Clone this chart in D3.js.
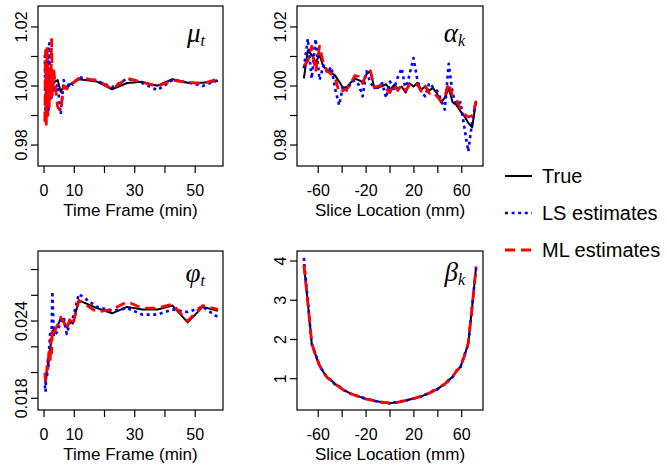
<!DOCTYPE html>
<html>
<head>
<meta charset="utf-8">
<script src="https://cdn.jsdelivr.net/npm/d3@7"></script>
<style>
  body { margin: 0; background: #fff; }
  svg { display: block; font-family: "Liberation Sans", Arial, sans-serif; }
</style>
</head>
<body>
<svg id="chart" width="667" height="468"></svg>
<script>
// Time frames (min) and slice locations (mm)
const timeFrames = [0.25, 0.5, 0.75, 1, 1.25, 1.5, 1.75, 2, 2.25, 2.5, 2.75, 3.25,
  4.5, 5.5, 6.5, 7.5, 8.5, 9.5, 11.5, 17.5, 22.5, 27.5, 32.5, 37.5, 42.5, 47.5, 52.5, 57.5];
const sliceLocs = d3.range(45).map(i => -72 + i * 144 / 44);

// mu_t
const muTrue = [0.9995, 1.0008, 0.9990, 1.0012, 0.9985, 1.0005, 0.9992, 1.0010, 0.9988, 1.0006, 0.9995, 1.0012,
  1.0020, 0.9980, 1.0000, 0.9992, 1.0005, 1.0009, 1.0023, 1.0015, 0.9989, 1.0010, 1.0014, 1.0001, 1.0023, 1.0011, 1.0011, 1.0017];
const muLS = [1.0105, 0.9880, 1.0080, 0.9900, 1.0100, 0.9920, 1.0145, 0.9950, 1.0060, 0.9960, 1.0030, 0.9985,
  1.0005, 0.9905, 1.0020, 0.9990, 1.0015, 1.0005, 1.0030, 1.0018, 0.9996, 1.0025, 1.0010, 0.9986, 1.0020, 1.0012, 1.0000, 1.0020];
const muML = [0.9880, 1.0120, 0.9870, 1.0135, 0.9900, 1.0060, 0.9930, 1.0050, 0.9960, 1.0158, 0.9970, 1.0050,
  0.9930, 0.9915, 1.0000, 0.9990, 1.0005, 1.0010, 1.0026, 1.0020, 0.9990, 1.0026, 1.0013, 0.9998, 1.0020, 1.0012, 1.0008, 1.0024];

// alpha_k
const alphaTrue = [1.0026, 1.0120, 1.0105, 1.0080, 1.0105, 1.0065, 1.0055, 1.0045, 1.0035, 1.0015,
  0.9993, 0.9997, 1.0012, 1.0025, 1.0020, 1.0013, 1.0040, 1.0052, 0.9992, 0.9995,
  1.0000, 1.0006, 0.9988, 1.0003, 0.9992, 0.9998, 0.9978, 1.0009, 0.9998, 1.0011,
  0.9988, 0.9998, 0.9985, 0.9993, 0.9975, 0.9945, 0.9960, 0.9993, 0.9945, 0.9935,
  0.9915, 0.9898, 0.9875, 0.9860, 0.9950];
const alphaLS = [1.0060, 1.0160, 1.0025, 1.0160, 1.0020, 1.0070, 1.0045, 1.0065, 0.9990, 0.9935,
  1.0000, 0.9985, 1.0010, 1.0020, 1.0005, 0.9965, 1.0050, 1.0010, 0.9995, 0.9995,
  1.0010, 0.9960, 1.0015, 0.9990, 1.0030, 1.0060, 0.9985, 1.0040, 1.0095, 1.0020,
  0.9980, 0.9965, 1.0010, 0.9995, 0.9985, 0.9955, 0.9920, 1.0075, 0.9975, 0.9935,
  0.9945, 0.9860, 0.9778, 0.9880, 0.9950];
const alphaML = [1.0068, 1.0085, 1.0135, 1.0048, 1.0135, 1.0075, 1.0050, 1.0040, 1.0028, 0.9978,
  0.9985, 0.9990, 1.0010, 1.0035, 1.0032, 1.0008, 1.0045, 1.0050, 0.9995, 1.0000,
  1.0003, 0.9990, 0.9978, 1.0005, 0.9985, 1.0003, 0.9985, 1.0005, 1.0000, 1.0005,
  0.9982, 1.0000, 0.9975, 0.9980, 0.9965, 0.9950, 0.9965, 1.0010, 0.9965, 0.9955,
  0.9920, 0.9905, 0.9895, 0.9900, 0.9948];

// phi_t
const phiTrue = [0.0196, 0.0192, 0.0199, 0.0202, 0.0205, 0.0210, 0.0215, 0.0218, 0.0222, 0.0226, 0.0232, 0.0233,
  0.0236, 0.0242, 0.0240, 0.0235, 0.0240, 0.0238, 0.0256, 0.0250, 0.0246, 0.0251, 0.0249, 0.0249, 0.0252, 0.0239, 0.0251, 0.0248];
const phiLS = [0.0190, 0.0185, 0.0200, 0.0196, 0.0210, 0.0205, 0.0220, 0.0230, 0.0225, 0.0233, 0.0263, 0.0228,
  0.0232, 0.0240, 0.0243, 0.0230, 0.0238, 0.0242, 0.0261, 0.0251, 0.0248, 0.0250, 0.0245, 0.0245, 0.0249, 0.0247, 0.0251, 0.0243];
const phiML = [0.0200, 0.0194, 0.0197, 0.0205, 0.0203, 0.0212, 0.0219, 0.0207, 0.0226, 0.0215, 0.0234, 0.0231,
  0.0237, 0.0243, 0.0239, 0.0234, 0.0241, 0.0237, 0.0256, 0.0247, 0.0249, 0.0255, 0.0250, 0.0250, 0.0253, 0.0240, 0.0252, 0.0249];

// beta_k
const betaTrue = [3.92, 2.95, 1.90, 1.60, 1.33, 1.17, 1.02, 0.96, 0.86, 0.80,
  0.72, 0.67, 0.62, 0.58, 0.55, 0.51, 0.48, 0.46, 0.44, 0.42,
  0.40, 0.39, 0.38, 0.39, 0.40, 0.42, 0.44, 0.47, 0.49, 0.52,
  0.55, 0.59, 0.63, 0.69, 0.73, 0.80, 0.86, 0.96, 1.05, 1.20,
  1.30, 1.58, 1.90, 2.85, 3.85];
const betaLS = [4.08, 2.98, 1.88, 1.62, 1.32, 1.18, 1.01, 0.97, 0.85, 0.81,
  0.71, 0.68, 0.61, 0.59, 0.54, 0.52, 0.47, 0.47, 0.43, 0.42,
  0.40, 0.39, 0.37, 0.40, 0.39, 0.43, 0.43, 0.48, 0.49, 0.53,
  0.54, 0.60, 0.62, 0.70, 0.72, 0.81, 0.85, 0.97, 1.04, 1.21,
  1.29, 1.60, 1.88, 2.88, 3.82];
const betaML = [3.90, 2.94, 1.91, 1.59, 1.34, 1.16, 1.03, 0.95, 0.87, 0.79,
  0.72, 0.66, 0.62, 0.58, 0.55, 0.51, 0.48, 0.46, 0.44, 0.41,
  0.40, 0.39, 0.38, 0.39, 0.40, 0.42, 0.45, 0.47, 0.50, 0.52,
  0.56, 0.59, 0.63, 0.68, 0.74, 0.80, 0.87, 0.95, 1.06, 1.19,
  1.31, 1.57, 1.91, 2.84, 3.86];

const seriesNames = ["True", "LS estimates", "ML estimates"];

const svg = d3.select("#chart");

// line styles for the three series
const styles = [
  { color: "#000000", width: 2, dash: null },
  { color: "#0000ff", width: 2.6, dash: "3,3.6" },
  { color: "#ff0000", width: 2.8, dash: "10,6" }
];

function drawPanel(p) {
  const x = d3.scaleLinear().domain(p.xDomain).range([p.left, p.right]);
  const y = d3.scaleLinear().domain(p.yDomain).range([p.bottom, p.top]);
  const g = svg.append("g");

  // lines
  const line = d3.line().x(d => x(d[0])).y(d => y(d[1]));
  p.series.forEach((vals, i) => {
    const s = styles[i];
    g.append("path")
      .datum(p.xs.map((v, j) => [v, vals[j]]))
      .attr("d", line)
      .attr("fill", "none")
      .attr("stroke", s.color)
      .attr("stroke-width", s.width)
      .attr("stroke-linejoin", "round")
      .attr("stroke-dasharray", s.dash);
  });

  // box
  g.append("rect")
    .attr("x", p.left).attr("y", p.top)
    .attr("width", p.right - p.left).attr("height", p.bottom - p.top)
    .attr("fill", "none").attr("stroke", "#000").attr("stroke-width", 1.2);

  // x axis (ticks, only some labelled)
  const xAxis = g.append("g").attr("transform", `translate(0,${p.bottom})`);
  xAxis.selectAll("line").data(p.xTicks).join("line")
    .attr("x1", d => x(d)).attr("x2", d => x(d))
    .attr("y1", 0).attr("y2", 7)
    .attr("stroke", "#000").attr("stroke-width", 1.2);
  xAxis.selectAll("text").data(p.xLabels).join("text")
    .attr("x", d => x(d)).attr("y", 30)
    .attr("text-anchor", "middle")
    .attr("font-size", 16)
    .text(d => d);
  xAxis.append("text")
    .attr("x", (p.left + p.right) / 2).attr("y", 49.5)
    .attr("text-anchor", "middle")
    .attr("font-size", 17)
    .text(p.xTitle);

  // y axis
  const yAxis = g.append("g").attr("transform", `translate(${p.left},0)`);
  yAxis.selectAll("line").data(p.yTicks).join("line")
    .attr("y1", d => y(d)).attr("y2", d => y(d))
    .attr("x1", 0).attr("x2", -7)
    .attr("stroke", "#000").attr("stroke-width", 1.2);
  yAxis.selectAll("text").data(p.yLabels).join("text")
    .attr("transform", d => `translate(-11,${y(d)}) rotate(-90)`)
    .attr("text-anchor", "middle")
    .attr("font-size", 16)
    .text(d => p.yFormat(d));

  // greek symbol label
  const lab = g.append("text")
    .attr("x", p.right - 18).attr("y", p.top + p.labelDy)
    .attr("text-anchor", "end")
    .attr("font-family", "'Liberation Serif', 'DejaVu Serif', serif")
    .attr("font-style", "italic")
    .attr("font-size", 27);
  lab.append("tspan").text(p.symbol);
  lab.append("tspan").attr("font-size", 16).attr("dy", 4).text(p.sub);
}

const fmt2 = d3.format(".2f");
const fmt3 = d3.format(".3f");

drawPanel({
  left: 38, right: 223, top: 6, bottom: 166,
  xDomain: [-2.0, 59.2], yDomain: [0.9729, 1.0271],
  xs: timeFrames, series: [muTrue, muLS, muML],
  xTicks: [0, 10, 20, 30, 40, 50], xLabels: [0, 10, 30, 50],
  yTicks: [0.98, 0.99, 1.00, 1.01, 1.02], yLabels: [0.98, 1.00, 1.02], yFormat: fmt2,
  xTitle: "Time Frame (min)", symbol: "\u03bc", sub: "t", labelDy: 36
});

drawPanel({
  left: 297, right: 483, top: 6, bottom: 166,
  xDomain: [-77.76, 77.76], yDomain: [0.9729, 1.0271],
  xs: sliceLocs, series: [alphaTrue, alphaLS, alphaML],
  xTicks: [-60, -40, -20, 0, 20, 40, 60], xLabels: [-60, -20, 20, 60],
  yTicks: [0.98, 0.99, 1.00, 1.01, 1.02], yLabels: [0.98, 1.00, 1.02], yFormat: fmt2,
  xTitle: "Slice Location (mm)", symbol: "\u03b1", sub: "k", labelDy: 36
});

drawPanel({
  left: 38, right: 223, top: 251, bottom: 410,
  xDomain: [-2.0, 59.2], yDomain: [0.01709, 0.02944],
  xs: timeFrames, series: [phiTrue, phiLS, phiML],
  xTicks: [0, 10, 20, 30, 40, 50], xLabels: [0, 10, 30, 50],
  yTicks: [0.018, 0.020, 0.022, 0.024, 0.026, 0.028], yLabels: [0.018, 0.024], yFormat: fmt3,
  xTitle: "Time Frame (min)", symbol: "\u03c6", sub: "t", labelDy: 31
});

drawPanel({
  left: 297, right: 483, top: 251, bottom: 410,
  xDomain: [-77.76, 77.76], yDomain: [0.2025, 4.255],
  xs: sliceLocs, series: [betaTrue, betaLS, betaML],
  xTicks: [-60, -40, -20, 0, 20, 40, 60], xLabels: [-60, -20, 20, 60],
  yTicks: [1, 2, 3, 4], yLabels: [1, 2, 3, 4], yFormat: d3.format("d"),
  xTitle: "Slice Location (mm)", symbol: "\u03b2", sub: "k", labelDy: 30
});

// legend
const legend = svg.append("g").attr("transform", "translate(505,176)");
seriesNames.forEach((name, i) => {
  const s = styles[i];
  const row = legend.append("g").attr("transform", `translate(0,${i * 37})`);
  row.append("line")
    .attr("x1", 0).attr("x2", 27).attr("y1", 0).attr("y2", 0)
    .attr("stroke", s.color).attr("stroke-width", s.width)
    .attr("stroke-dasharray", s.dash);
  row.append("text")
    .attr("x", 37).attr("y", 7)
    .attr("font-size", 20)
    .text(name);
});
</script>
</body>
</html>
